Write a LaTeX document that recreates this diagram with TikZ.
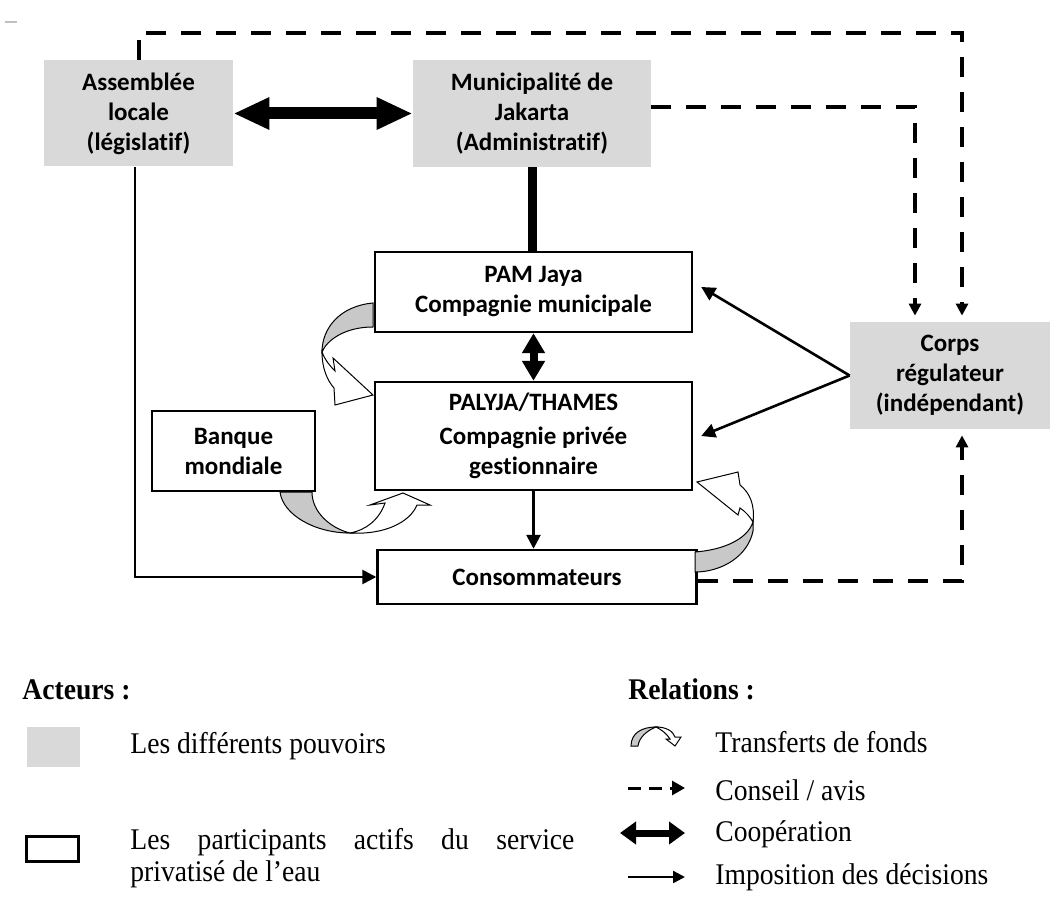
\documentclass[tikz,border=0pt]{standalone}
\usepackage{fontspec}
\setmainfont{Liberation Serif}
\newfontfamily\boxfont[Ligatures=NoCommon]{Carlito}
\newfontfamily\legfont[FakeStretch=0.92]{Liberation Serif}
\usepackage{xcolor}
\definecolor{pouvoir}{RGB}{217,217,217}
\definecolor{fondgris}{RGB}{200,200,200}
\usetikzlibrary{arrows.meta, positioning}

\begin{document}
\begin{tikzpicture}[x=0.5pt, y=-0.5pt,
    pouvoirbox/.style={fill=pouvoir, inner sep=0pt, align=center, font=\boxfont\bfseries\fontsize{12.5}{15}\selectfont},
    acteurbox/.style={draw, line width=1.2pt, fill=white, inner sep=0pt, align=center, font=\boxfont\bfseries\fontsize{12.5}{15}\selectfont},
    coop/.style={line width=6pt, {Triangle[length=18pt,width=15pt]}-{Triangle[length=18pt,width=15pt]}},
    impose/.style={line width=1.3pt, -{Triangle[length=7pt,width=7pt]}},
    conseil/.style={line width=2pt, dash pattern=on 10pt off 7.5pt, -{Triangle[length=6pt,width=6pt]}, shorten >=3pt},
    fondsgris/.style={fill=fondgris, draw=black, line width=0.5pt},
    fondsblanc/.style={fill=white, draw=black, line width=0.5pt},
    legtext/.style={anchor=west, inner sep=0pt, font=\legfont\fontsize{15}{14}\selectfont},
    legtitre/.style={anchor=base west, inner sep=0pt, font=\legfont\bfseries\fontsize{15}{14}\selectfont}]
  \useasboundingbox (0,0) rectangle (1058,897);
  \draw[gray!50, line width=0.6pt] (5,22) -- (17,22);

  % Pouvoirs
  \node[pouvoirbox, minimum width=94.5pt, minimum height=53pt] (assemblee) at (138.5,113.5) {Assemblée\\locale\\(législatif)};
  \node[pouvoirbox, minimum width=119pt, minimum height=53.5pt] (municipalite) at (532,113.5) {Municipalité de\\Jakarta\\(Administratif)};
  \node[pouvoirbox, minimum width=100pt, minimum height=53.5pt] (corps) at (950,375.5) {Corps\\régulateur\\(indépendant)};

  % Participants
  \node[acteurbox, minimum width=158.5pt, minimum height=40pt] (pam) at (533.5,292) {PAM Jaya\\Compagnie municipale};
  \node[acteurbox, minimum width=158.5pt, minimum height=54pt] (palyja) at (533.5,436) {PALYJA/THAMES\\[2pt]Compagnie privée\\gestionnaire};
  \node[acteurbox, minimum width=159.5pt, minimum height=27pt] (conso) at (537,577) {Consommateurs};
  \node[acteurbox, line width=1pt, minimum width=81.5pt, minimum height=40pt] (banque) at (233.5,451) {Banque\\mondiale};

  % Cooperation
  \draw[coop] (assemblee) -- (municipalite);
  \draw[line width=4.5pt] (municipalite.south) -- (municipalite.south |- pam.north);
  \draw[line width=4pt, {Triangle[length=10pt,width=11pt]}-{Triangle[length=10pt,width=11pt]}] (pam) -- (palyja);

  % Decisions
  \draw[impose] (palyja.south) -- (palyja.south |- conso.north);
  \draw[impose] (corps.west) -- ([xshift=4pt,yshift=2.5pt]pam.east);
  \draw[impose] (corps.west) -- ([xshift=4pt]palyja.east);
  \coordinate (gauche) at (135,578);
  \draw[impose] (assemblee.south -| gauche) |- (conso.west);

  % Conseil
  \coordinate (haut) at (962,33);
  \coordinate (milieu) at (915,107);
  \coordinate (bas) at (962,581);
  \draw[conseil] (assemblee.north) |- (haut) -- (haut |- corps.north);
  \draw[conseil] (municipalite.east |- milieu) -- (milieu) -- (milieu |- corps.north);
  \draw[conseil] (conso.east |- bas) -- (bas) -- (bas |- corps.south);

  % Transferts de fonds
  \draw[fondsgris] (373,303) .. controls (340,306) and (322,328) .. (322,352)
    .. controls (327,340) and (345,327) .. (373,327) -- cycle;
  \draw[fondsblanc] (322,352) .. controls (322,368) and (327,380) .. (334,388) -- (335,405) -- (373,395)
    -- (333,358) -- (335,371) .. controls (330,366) and (325,360) .. (322,352) -- cycle;
  \draw[fondsgris] (280,492) .. controls (283,515) and (315,533) .. (350,533)
    .. controls (330,528) and (312,512) .. (312,492) -- cycle;
  \draw[fondsblanc] (350,533) .. controls (385,535) and (410,522) .. (417,505) -- (430,505) -- (403,493)
    -- (370,505) -- (385,503) .. controls (379,520) and (366,530) .. (350,533) -- cycle;
  \draw[fondsgris] (695,552) .. controls (722,550) and (747,540) .. (753,522) -- (753,531)
    .. controls (748,556) and (722,572) .. (695,572) -- cycle;
  \draw[fondsblanc] (753,522) .. controls (755,505) and (750,493) .. (740,485) -- (738,472) -- (697,482)
    -- (738,515) -- (740,508) .. controls (746,512) and (750,517) .. (753,522) -- cycle;

  % Legende acteurs
  \node[legtitre] (acteurs) at (22,699) {Acteurs :};
  \node[fill=pouvoir, minimum width=26.5pt, minimum height=20pt, inner sep=0pt] (legpouvoir) at (53.5,747) {};
  \node[legtext] (txtpouvoir) at (130,746) {Les différents pouvoirs};
  \node[draw, line width=1.5pt, minimum width=26pt, minimum height=12.5pt, inner sep=0pt] (legacteur) at (52.5,849) {};
  \node[legtext, anchor=north west, text width=222pt, align=justify, font=\legfont\fontsize{15}{16}\selectfont] (txtacteur) at (130,828)
    {Les participants actifs du service\linebreak privatisé de l’eau};

  % Legende relations
  \node[legtitre] (relations) at (628,699) {Relations :};
  \draw[fondsgris] (631,746) .. controls (631,733) and (642,727) .. (656,727)
    .. controls (646,731) and (639,738) .. (638,746) -- cycle;
  \draw[fondsblanc] (656,727) .. controls (666,727) and (673,731) .. (675,737) -- (681,737) -- (675,746)
    -- (666,739) -- (670,739) .. controls (667,734) and (662,730) .. (656,727) -- cycle;
  \node[legtext] (txtfonds) at (715,742) {Transferts de fonds};
  \coordinate (c1a) at (628,788);
  \coordinate (c1b) at (685,788);
  \draw[line width=1.5pt, dash pattern=on 6.5pt off 4pt, -{Triangle[length=6.5pt,width=7pt]}] (c1a) -- (c1b);
  \node[legtext] (txtconseil) at (715,790) {Conseil / avis};
  \coordinate (c2a) at (620,833);
  \coordinate (c2b) at (685,833);
  \draw[line width=3.5pt, {Triangle[length=8pt,width=11pt]}-{Triangle[length=8pt,width=11pt]}] (c2a) -- (c2b);
  \node[legtext] (txtcoop) at (715,834) {Coopération};
  \coordinate (c3a) at (628,877);
  \coordinate (c3b) at (685,877);
  \draw[line width=1.2pt, -{Triangle[length=6pt,width=6pt]}] (c3a) -- (c3b);
  \node[legtext] (txtimpose) at (715,877) {Imposition des décisions};
\end{tikzpicture}
\end{document}
